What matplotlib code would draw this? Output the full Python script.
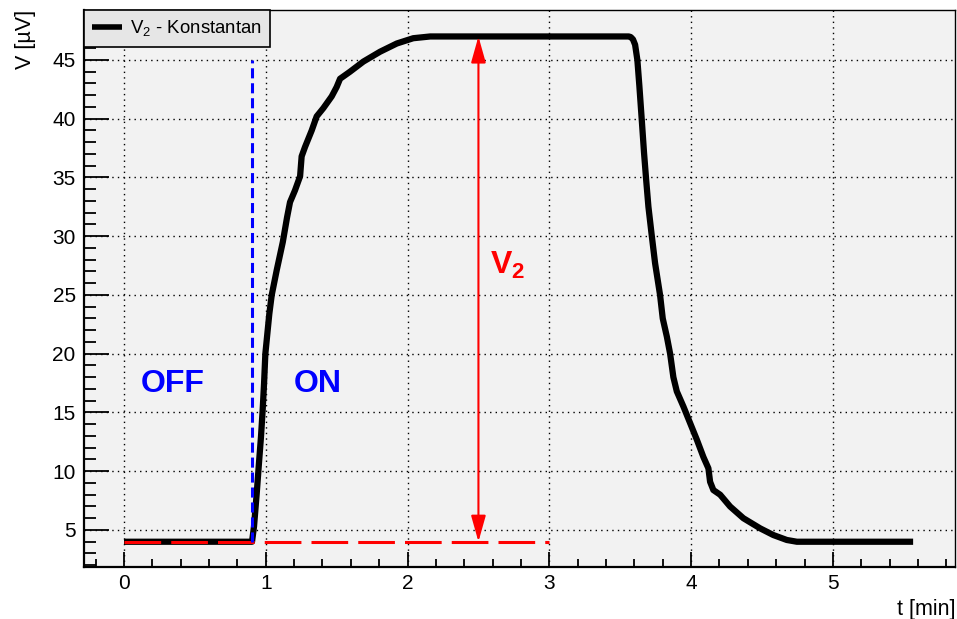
import matplotlib
matplotlib.use("Agg")
from matplotlib import pyplot as plt
from matplotlib.ticker import MultipleLocator

plt.rcParams['font.family'] = ['Liberation Sans', 'DejaVu Sans']
plt.rcParams['mathtext.fontset'] = 'custom'
plt.rcParams['mathtext.rm'] = 'Liberation Sans'
plt.rcParams['mathtext.it'] = 'Liberation Sans:italic'
plt.rcParams['mathtext.bf'] = 'Liberation Sans:bold'
plt.rcParams['mathtext.default'] = 'regular'

t_min = [0, 0.903, 0.917, 0.936, 0.952, 0.966, 0.978, 0.988, 0.997, 1.011,
         1.025, 1.042, 1.077, 1.12, 1.15, 1.171, 1.206, 1.242, 1.253, 1.277,
         1.324, 1.359, 1.406, 1.465, 1.50, 1.524, 1.594, 1.688, 1.806, 1.924,
         2.04, 2.16, 2.35, 3.56, 3.574, 3.59, 3.605, 3.621, 3.635, 3.652,
         3.668, 3.683, 3.699, 3.723, 3.746, 3.781, 3.80, 3.829, 3.852, 3.875,
         3.899, 3.946, 3.993, 4.04, 4.087, 4.122, 4.134, 4.157, 4.205, 4.275,
         4.369, 4.487, 4.58, 4.675, 4.746, 5.566]
v_uV = [4, 4.0, 5.3, 8.1, 10.7, 12.9, 15.2, 17.5, 20.0, 21.7,
        23.4, 25.0, 27.1, 29.5, 31.6, 32.9, 33.9, 35.1, 36.8, 37.6,
        39.0, 40.2, 40.9, 41.9, 42.7, 43.4, 44.0, 44.86, 45.7, 46.4,
        46.85, 47.0, 47.0, 47.0, 46.95, 46.75, 46.3, 45.0, 42.8, 39.9,
        37.1, 34.8, 32.5, 30.0, 27.7, 25.0, 23.0, 21.45, 20.0, 18.0,
        16.8, 15.5, 14.1, 12.7, 11.2, 10.25, 9.1, 8.4, 8.0, 7.0,
        6.0, 5.14, 4.57, 4.15, 4.0, 4.0]

t_switch = 0.9      # heater switched on
v_base = 4.0
v_top = 47.0
t_base_end = 3.0
t_arrow = 2.5
v_switch_top = 45

fig = plt.figure(figsize=(9.57, 6.19), dpi=100)
ax = fig.add_axes([0.0878, 0.084, 0.9102, 0.9])
ax.set_facecolor('#f2f2f2')

ax.plot(t_min, v_uV, color='black', lw=4.5, solid_capstyle='butt',
        solid_joinstyle='round', label='V$_2$ - Konstantan', zorder=3)

# baseline and switch-on marker
ax.plot([0, t_base_end], [v_base, v_base], color='#ff0000', lw=2.2,
        linestyle=(0, (12, 3.3)), zorder=4)
ax.plot([t_switch, t_switch], [v_base, v_switch_top], color='#0000ff', lw=2.2,
        linestyle=(0, (3.3, 1.6)), zorder=4)

# V2 arrow
ax.annotate('', xy=(t_arrow, v_top), xytext=(t_arrow, v_base),
            arrowprops=dict(arrowstyle='<|-|>,head_length=1.6,head_width=0.45',
                            mutation_scale=10, color='#ff0000', lw=1.5,
                            shrinkA=0, shrinkB=0), zorder=5)
ax.text(2.58, 27.5, r'$\mathbf{V_2}$', color='#ff0000', fontsize=23,
        ha='left', va='center')

ax.text(0.34, 17.4, 'OFF', color='#0000ff', fontsize=23, fontweight='bold',
        ha='center', va='center')
ax.text(1.37, 17.4, 'ON', color='#0000ff', fontsize=23, fontweight='bold',
        ha='center', va='center')

ax.set_xlim(-0.282, 5.862)
ax.set_ylim(1.85, 49.26)

ax.xaxis.set_major_locator(MultipleLocator(1))
ax.xaxis.set_minor_locator(MultipleLocator(0.2))
ax.yaxis.set_major_locator(MultipleLocator(5))
ax.yaxis.set_minor_locator(MultipleLocator(1))
ax.set_yticks([5, 10, 15, 20, 25, 30, 35, 40, 45])

ax.tick_params(axis='both', which='both', direction='in', top=False, right=False,
               labelsize=15, width=1.3)
ax.tick_params(axis='y', which='major', length=18, pad=6)
ax.tick_params(axis='y', which='minor', length=8.5)
ax.tick_params(axis='x', which='major', length=11, pad=5)
ax.tick_params(axis='x', which='minor', length=5.5)

ax.grid(True, which='major', color='black', linestyle=(0, (1, 3)), lw=1.0)
ax.set_axisbelow(True)

for side in ['left', 'bottom']:
    ax.spines[side].set_linewidth(1.6)
for side in ['top', 'right']:
    ax.spines[side].set_linewidth(1.0)

ax.set_xlabel('t [min]', fontsize=15.5, loc='right', labelpad=4)
ax.set_ylabel('V [µV]', fontsize=15.5, loc='top', labelpad=12)

leg = ax.legend(loc='upper left', bbox_to_anchor=(0, 1), borderaxespad=0,
                fancybox=False, framealpha=1, facecolor='#e6e6e6',
                edgecolor='black', fontsize=13.4, handlelength=1.6,
                handletextpad=0.4, borderpad=0.45)
leg.get_frame().set_linewidth(1.2)
for line in leg.get_lines():
    line.set_linewidth(4)

fig.savefig('out.png', dpi=100)
